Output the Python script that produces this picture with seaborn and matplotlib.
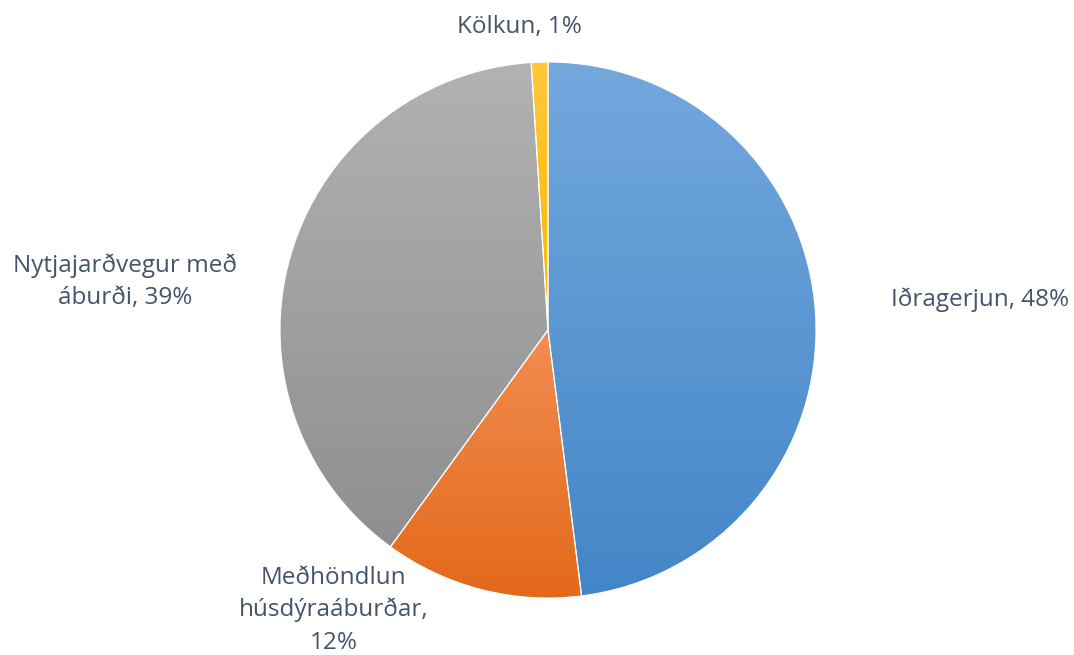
import numpy as np
import matplotlib
matplotlib.use("Agg")
import matplotlib.pyplot as plt
import seaborn as sns
from matplotlib.colors import LinearSegmentedColormap

# gögn
categories = ["Iðragerjun", "Meðhöndlun húsdýraáburðar", "Nytjajarðvegur með áburði", "Kölkun"]
values = [48, 12, 39, 1]
# merkingar eins og þær eru brotnar í myndinni
labels = ["Iðragerjun, 48%", "Meðhöndlun\nhúsdýraáburðar,\n12%",
          "Nytjajarðvegur með\náburði, 39%", "Kölkun, 1%"]
# litir: (efst, neðst) fyrir stigul
colors_top = ["#73A8DD", "#F28D52", "#B2B2B2", "#FFC83A"]
colors_bottom = ["#4386C7", "#E3691A", "#8F8F8F", "#F5B800"]
label_pos = [(1.612, 0.112), (-0.80, -1.045), (-1.578, 0.179), (-0.105, 1.131)]

sns.set_theme(style="white")
plt.rcParams["font.family"] = ["Open Sans", "DejaVu Sans"]

fig = plt.figure(figsize=(10.74, 6.55), dpi=100)
ax = fig.add_axes([0, 0, 1, 1])

wedges, _ = ax.pie(values, startangle=90, counterclock=False, radius=1,
                   wedgeprops=dict(edgecolor="white", linewidth=0.8))

for w, ctop, cbot in zip(wedges, colors_top, colors_bottom):
    w.set_facecolor("none")
    bb = w.get_path().get_extents(w.get_patch_transform())
    cmap = LinearSegmentedColormap.from_list("g", [cbot, ctop])
    grad = np.linspace(0, 1, 256).reshape(-1, 1)
    im = ax.imshow(grad, cmap=cmap, extent=[bb.x0, bb.x1, bb.y0, bb.y1],
                   origin="lower", aspect="auto", zorder=0.5, interpolation="bilinear")
    im.set_clip_path(w)

for lab, (lx, ly) in zip(labels, label_pos):
    ax.text(lx, ly, lab, ha="center", va="center", fontsize=17.5,
            color="#44546A", linespacing=1.45)

ax.set_xlim(-548 / 268, (1074 - 548) / 268)
ax.set_ylim((330 - 655) / 268, 330 / 268)
ax.set_aspect("auto")
ax.axis("off")

fig.savefig("out.png", dpi=100)
